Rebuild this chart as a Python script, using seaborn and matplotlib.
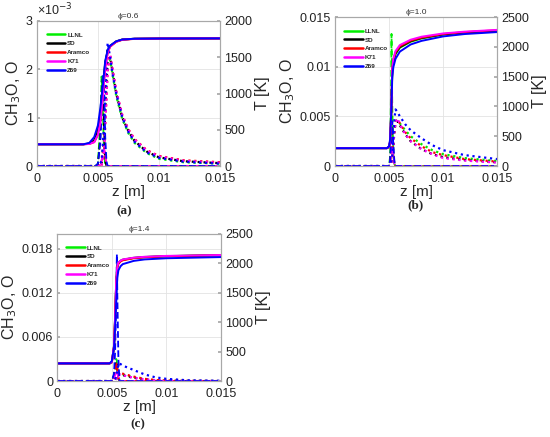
import numpy as np
import pandas as pd
import matplotlib
matplotlib.use("Agg")
import matplotlib.pyplot as plt
import seaborn as sns

# mechanisms and colours
mechs = ["LLNL", "SD", "Aramco", "K71", "Z69"]
mech_colors = ["#00ee00", "#000000", "#ff0000", "#ff00ff", "#0000ff"]

# ---------------- phi = 0.6 ----------------
zT_a = [0, 0.0038, 0.0043, 0.0047, 0.005, 0.0052, 0.0054, 0.0056, 0.0058, 0.006, 0.0065, 0.007, 0.008, 0.01, 0.015]
T_a = {
    "LLNL":   [300, 300, 310, 360, 500, 720, 1080, 1430, 1590, 1655, 1718, 1744, 1755, 1758, 1760],
    "SD":     [300, 300, 310, 350, 480, 700, 1050, 1420, 1590, 1655, 1718, 1744, 1755, 1758, 1760],
    "Aramco": [300, 300, 305, 330, 430, 610, 960, 1360, 1560, 1645, 1712, 1740, 1753, 1757, 1759],
    "K71":    [300, 300, 305, 330, 430, 600, 950, 1350, 1560, 1650, 1715, 1742, 1755, 1758, 1760],
    "Z69":    [300, 300, 320, 400, 560, 800, 1100, 1450, 1600, 1660, 1720, 1745, 1755, 1758, 1760],
}
zC_a = [0, 0.0048, 0.005, 0.0052, 0.0053, 0.0054, 0.0055, 0.0056, 0.0057, 0.0058, 0.006, 0.015]
C_a = {
    "LLNL":   [0, 0, 0.05e-3, 0.9e-3, 1.85e-3, 1.2e-3, 0.3e-3, 0.02e-3, 0, 0, 0, 0],
    "SD":     [0, 0, 0.03e-3, 0.6e-3, 1.5e-3, 1.8e-3, 0.8e-3, 0.1e-3, 0, 0, 0, 0],
    "Aramco": [0, 0, 0, 0.02e-3, 0.1e-3, 0.3e-3, 0.35e-3, 0.2e-3, 0.05e-3, 0, 0, 0],
    "K71":    [0, 0, 0, 0.02e-3, 0.1e-3, 0.25e-3, 0.35e-3, 0.25e-3, 0.05e-3, 0, 0, 0],
    "Z69":    [0, 0, 0.05e-3, 0.5e-3, 1.2e-3, 1.9e-3, 1.7e-3, 0.6e-3, 0.1e-3, 0, 0, 0],
}
zO_a = [0, 0.005, 0.0053, 0.0055, 0.0057, 0.0058, 0.006, 0.0062, 0.0065, 0.007, 0.0075, 0.008, 0.009, 0.01, 0.012, 0.015]
O_a = {
    "LLNL":   [0, 0, 0.05e-3, 0.5e-3, 1.7e-3, 2.2e-3, 2.2e-3, 1.9e-3, 1.45e-3, 0.97e-3, 0.68e-3, 0.48e-3, 0.27e-3, 0.15e-3, 0.08e-3, 0.05e-3],
    "SD":     [0, 0, 0.05e-3, 0.5e-3, 1.7e-3, 2.2e-3, 2.25e-3, 1.95e-3, 1.5e-3, 1.0e-3, 0.72e-3, 0.52e-3, 0.3e-3, 0.18e-3, 0.1e-3, 0.06e-3],
    "Aramco": [0, 0, 0.02e-3, 0.3e-3, 1.4e-3, 2.0e-3, 2.3e-3, 2.0e-3, 1.55e-3, 1.05e-3, 0.76e-3, 0.56e-3, 0.33e-3, 0.21e-3, 0.12e-3, 0.08e-3],
    "K71":    [0, 0, 0.02e-3, 0.3e-3, 1.4e-3, 2.0e-3, 2.3e-3, 2.0e-3, 1.55e-3, 1.05e-3, 0.75e-3, 0.55e-3, 0.32e-3, 0.2e-3, 0.11e-3, 0.07e-3],
    "Z69":    [0, 0, 0.1e-3, 0.8e-3, 2.1e-3, 2.55e-3, 2.25e-3, 1.9e-3, 1.5e-3, 1.0e-3, 0.7e-3, 0.5e-3, 0.28e-3, 0.17e-3, 0.09e-3, 0.05e-3],
}

# ---------------- phi = 1.0 ----------------
zT_b = [0, 0.0048, 0.005, 0.0051, 0.0052, 0.0053, 0.0054, 0.0056, 0.006, 0.007, 0.008, 0.01, 0.012, 0.015]
T_b = {
    "LLNL":   [300, 300, 320, 410, 850, 1590, 1750, 1880, 1985, 2085, 2140, 2205, 2240, 2268],
    "SD":     [300, 300, 320, 410, 860, 1600, 1760, 1890, 1995, 2095, 2148, 2210, 2243, 2272],
    "Aramco": [300, 300, 320, 410, 870, 1620, 1780, 1910, 2010, 2105, 2155, 2215, 2248, 2278],
    "K71":    [300, 300, 320, 420, 900, 1650, 1800, 1930, 2030, 2120, 2170, 2225, 2255, 2285],
    "Z69":    [300, 300, 330, 450, 880, 1500, 1660, 1800, 1920, 2040, 2100, 2175, 2215, 2248],
}
zC_b = [0, 0.005, 0.0051, 0.0052, 0.00523, 0.0053, 0.0054, 0.0055, 0.0056, 0.015]
C_b = {
    "LLNL":   [0, 0, 0.001, 0.009, 0.0133, 0.006, 0.001, 0.0002, 0, 0],
    "SD":     [0, 0, 0.0005, 0.002, 0.0035, 0.004, 0.0015, 0.0003, 0, 0],
    "Aramco": [0, 0, 0.0003, 0.0012, 0.002, 0.0026, 0.0012, 0.0002, 0, 0],
    "K71":    [0, 0, 0.0003, 0.0012, 0.002, 0.0025, 0.0012, 0.0002, 0, 0],
    "Z69":    [0, 0, 0.0006, 0.0025, 0.004, 0.0045, 0.002, 0.0004, 0, 0],
}
zO_b = [0, 0.0051, 0.0053, 0.0055, 0.0056, 0.0058, 0.006, 0.0065, 0.007, 0.008, 0.009, 0.01, 0.012, 0.015]
O_b = {
    "LLNL":   [0, 0, 0.0008, 0.0038, 0.0045, 0.0046, 0.0043, 0.0036, 0.003, 0.0022, 0.0016, 0.0012, 0.0008, 0.0005],
    "SD":     [0, 0, 0.0007, 0.0035, 0.0043, 0.0045, 0.0041, 0.0032, 0.0025, 0.0017, 0.0012, 0.0009, 0.0006, 0.00038],
    "Aramco": [0, 0, 0.0008, 0.0038, 0.0045, 0.0047, 0.0043, 0.0034, 0.0028, 0.002, 0.0014, 0.0011, 0.0007, 0.00045],
    "K71":    [0, 0, 0.0007, 0.0035, 0.0044, 0.0048, 0.0042, 0.0032, 0.0025, 0.0017, 0.0012, 0.0008, 0.00055, 0.00035],
    "Z69":    [0, 0, 0.001, 0.0048, 0.0057, 0.0054, 0.005, 0.0042, 0.0036, 0.0028, 0.0021, 0.0016, 0.0011, 0.0007],
}

# ---------------- phi = 1.4 ----------------
zT_c = [0, 0.0048, 0.005, 0.0052, 0.0053, 0.0054, 0.0055, 0.0056, 0.0058, 0.006, 0.007, 0.008, 0.01, 0.015]
T_c = {
    "LLNL":   [300, 300, 320, 600, 1090, 1690, 1945, 2005, 2042, 2060, 2092, 2107, 2122, 2139],
    "SD":     [300, 300, 320, 590, 1080, 1680, 1940, 2000, 2040, 2058, 2090, 2105, 2120, 2138],
    "Aramco": [300, 300, 320, 580, 1050, 1650, 1920, 1990, 2030, 2050, 2085, 2100, 2118, 2135],
    "K71":    [300, 300, 320, 600, 1100, 1700, 1950, 2010, 2045, 2065, 2095, 2110, 2125, 2140],
    "Z69":    [300, 300, 340, 560, 900, 1350, 1750, 1880, 1950, 1985, 2040, 2065, 2085, 2105],
}
zC_c = [0, 0.005, 0.0052, 0.0053, 0.0054, 0.00546, 0.0055, 0.0056, 0.0057, 0.015]
C_c = {
    "LLNL":   [0, 0, 0.0008, 0.002, 0.003, 0.0028, 0.0015, 0.0003, 0, 0],
    "SD":     [0, 0, 0.0008, 0.0018, 0.0026, 0.0025, 0.0015, 0.0003, 0, 0],
    "Aramco": [0, 0, 0.0005, 0.0015, 0.0022, 0.0025, 0.0018, 0.0005, 0, 0],
    "K71":    [0, 0, 0.0003, 0.0008, 0.0012, 0.0014, 0.0012, 0.0004, 0, 0],
    "Z69":    [0, 0, 0.001, 0.004, 0.011, 0.0172, 0.012, 0.003, 0, 0],
}
zO_c = [0, 0.0052, 0.0054, 0.0056, 0.0058, 0.006, 0.0065, 0.007, 0.008, 0.009, 0.01, 0.012, 0.015]
O_c = {
    "LLNL":   [0, 0, 0.0004, 0.0011, 0.001, 0.0009, 0.0007, 0.0005, 0.00025, 0.00012, 0.00006, 0.00002, 0],
    "SD":     [0, 0, 0.0004, 0.001, 0.0009, 0.0008, 0.0006, 0.00045, 0.00022, 0.0001, 0.00005, 0.00002, 0],
    "Aramco": [0, 0, 0.0004, 0.0012, 0.0011, 0.001, 0.0008, 0.0006, 0.0003, 0.00014, 0.00007, 0.00002, 0],
    "K71":    [0, 0, 0.0003, 0.0009, 0.0009, 0.0008, 0.0006, 0.00045, 0.00022, 0.0001, 0.00005, 0.00002, 0],
    "Z69":    [0, 0, 0.0006, 0.0024, 0.0023, 0.0021, 0.0018, 0.0015, 0.0009, 0.0005, 0.0003, 0.0001, 0.00003],
}

# axis settings per panel
x_ticks = [0, 0.005, 0.01, 0.015]
x_labels = ["0", "0.005", "0.01", "0.015"]
titles = ["\u03d5=0.6", "\u03d5=1.0", "\u03d5=1.4"]
left_ticks = [[0, 1e-3, 2e-3, 3e-3], [0, 0.005, 0.01, 0.015], [0, 0.006, 0.012, 0.018]]
left_labels = [["0", "1", "2", "3"], ["0", "0.005", "0.01", "0.015"], ["0", "0.006", "0.012", "0.018"]]
left_max = [3e-3, 0.015, 0.02]
right_ticks = [[0, 500, 1000, 1500, 2000], [0, 500, 1000, 1500, 2000, 2500], [0, 500, 1000, 1500, 2000, 2500]]
right_max = [2000, 2500, 2500]
sub_labels = ["(a)", "(b)", "(c)"]

sns.set_theme(style="white")
plt.rcParams["font.family"] = ["Liberation Sans", "DejaVu Sans"]

fig = plt.figure(figsize=(5.5, 4.37), dpi=100)
rects = [[0.067, 0.620, 0.333, 0.332], [0.609, 0.620, 0.295, 0.341], [0.104, 0.128, 0.298, 0.337]]
sub_pos = [(0.226, 0.517), (0.755, 0.530), (0.251, 0.030)]

panels = [
    (zT_a, T_a, zC_a, C_a, zO_a, O_a),
    (zT_b, T_b, zC_b, C_b, zO_b, O_b),
    (zT_c, T_c, zC_c, C_c, zO_c, O_c),
]

spine_col = "#a8a8a8"
for i, (zT, T, zC, C, zO, O) in enumerate(panels):
    ax = fig.add_axes(rects[i])
    ax2 = ax.twinx()
    for m, c in zip(mechs, mech_colors):
        sns.lineplot(x=zO, y=O[m], ax=ax, color=c, lw=1.6, linestyle=":", estimator=None, sort=False)
        sns.lineplot(x=zC, y=C[m], ax=ax, color=c, lw=1.3, linestyle="--", estimator=None, sort=False)
        sns.lineplot(x=zT, y=T[m], ax=ax2, color=c, lw=1.4, estimator=None, sort=False, label=m)

    ax.set_xlim(0, 0.015)
    ax.set_ylim(0, left_max[i])
    ax2.set_ylim(0, right_max[i])
    ax.set_xticks(x_ticks)
    ax.set_xticklabels(x_labels)
    ax.set_yticks(left_ticks[i])
    ax.set_yticklabels(left_labels[i])
    ax2.set_yticks(right_ticks[i])
    ax.grid(True, color="#e3e3e3", lw=0.6)
    for a in (ax, ax2):
        for s in a.spines.values():
            s.set_color(spine_col)
            s.set_linewidth(0.8)
        a.tick_params(labelsize=9, direction="in", length=2, color=spine_col, pad=3,
                      labelcolor="#222222")
    ax.tick_params(axis="x", pad=5)
    ax.set_xlabel("z [m]", fontsize=11, labelpad=0)
    ax.set_ylabel("CH$_3$O, O", fontsize=11.5, labelpad=2)
    ax2.set_ylabel("T [K]", fontsize=11.5, labelpad=2)
    ax.set_title(titles[i], fontsize=6, color="#333333", pad=2)

    leg = ax2.legend(loc="upper left", bbox_to_anchor=(0.04, 0.94), frameon=False,
                     prop={"size": 4.5, "weight": "bold"}, handlelength=3.0,
                     labelspacing=0.55, handletextpad=0.3, borderaxespad=0)
    for line in leg.get_lines():
        line.set_linewidth(1.8)

    fig.text(sub_pos[i][0], sub_pos[i][1], sub_labels[i], ha="center", va="center",
             fontsize=9.5, fontweight="bold", family=["Liberation Serif", "DejaVu Serif"])

# exponent label of panel (a)
fig.axes[0].text(0.0, 1.015, "\u00d710$^{-3}$", transform=fig.axes[0].transAxes,
                 fontsize=9, ha="left", va="bottom")

fig.savefig("out.png", dpi=100)
